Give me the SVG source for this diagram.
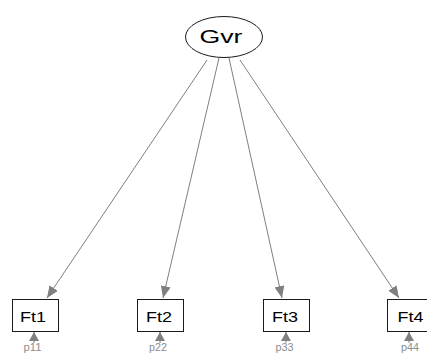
<svg xmlns="http://www.w3.org/2000/svg" width="427" height="354" viewBox="0 0 427 354">
<style>
.edge{stroke:#7f7f7f;stroke-width:1;fill:none}
.node rect{fill:#fff;stroke:#1a1a1a;stroke-width:1}
.lbl{font-family:"Liberation Sans",Arial,sans-serif;font-size:15px;fill:#000;text-anchor:middle}
.res{font-family:"Liberation Sans",Arial,sans-serif;font-size:10px;fill:#8c8c8c;text-anchor:middle}
</style>
<defs>
<marker id="ah" markerWidth="12" markerHeight="10" refX="12" refY="5" orient="auto" markerUnits="userSpaceOnUse">
<path d="M0,0 L12,5 L0,10 Z" fill="#7f7f7f"/>
</marker>
<marker id="ahs" markerWidth="9" markerHeight="10" refX="9" refY="5" orient="auto" markerUnits="userSpaceOnUse">
<path d="M0,0 L9,5 L0,10 Z" fill="#7f7f7f"/>
</marker>
</defs>
<rect width="427" height="354" fill="#fff"/>
<g id="connectors">
<line class="edge" x1="207" y1="60" x2="47" y2="298" marker-end="url(#ah)"/>
<line class="edge" x1="219" y1="58" x2="163" y2="298" marker-end="url(#ah)"/>
<line class="edge" x1="229" y1="58" x2="282" y2="298" marker-end="url(#ah)"/>
<line class="edge" x1="240" y1="60" x2="399" y2="298" marker-end="url(#ah)"/>
<line class="edge" x1="34" y1="343" x2="34" y2="332" marker-end="url(#ahs)"/>
<line class="edge" x1="160" y1="343" x2="160" y2="332" marker-end="url(#ahs)"/>
<line class="edge" x1="286" y1="343" x2="286" y2="332" marker-end="url(#ahs)"/>
<line class="edge" x1="409" y1="343" x2="409" y2="332" marker-end="url(#ahs)"/>
</g>
<g id="Gvr" class="node">
<ellipse cx="224" cy="37" rx="38.5" ry="20.5" fill="#fff" stroke="#1a1a1a" stroke-width="1"/>
<text x="221" y="43" class="lbl" style="font-size:18px" textLength="43" lengthAdjust="spacingAndGlyphs">Gvr</text>
</g>
<g id="Ft1" class="node"><rect x="12.5" y="299.5" width="46" height="32"/><text x="33" y="322" class="lbl" textLength="26" lengthAdjust="spacingAndGlyphs">Ft1</text></g>
<g id="Ft2" class="node"><rect x="137.5" y="299.5" width="46" height="32"/><text x="159" y="322" class="lbl" textLength="26" lengthAdjust="spacingAndGlyphs">Ft2</text></g>
<g id="Ft3" class="node"><rect x="263.5" y="299.5" width="46" height="32"/><text x="285" y="322" class="lbl" textLength="26" lengthAdjust="spacingAndGlyphs">Ft3</text></g>
<g id="Ft4" class="node"><rect x="387.5" y="299.5" width="46" height="32"/><text x="410.5" y="322" class="lbl" textLength="26" lengthAdjust="spacingAndGlyphs">Ft4</text></g>
<g id="resid">
<text x="32.5" y="351" class="res" textLength="18" lengthAdjust="spacingAndGlyphs">p11</text>
<text x="158" y="351" class="res" textLength="18" lengthAdjust="spacingAndGlyphs">p22</text>
<text x="284.5" y="351" class="res" textLength="18" lengthAdjust="spacingAndGlyphs">p33</text>
<text x="410" y="351" class="res" textLength="18" lengthAdjust="spacingAndGlyphs">p44</text>
</g>
</svg>
